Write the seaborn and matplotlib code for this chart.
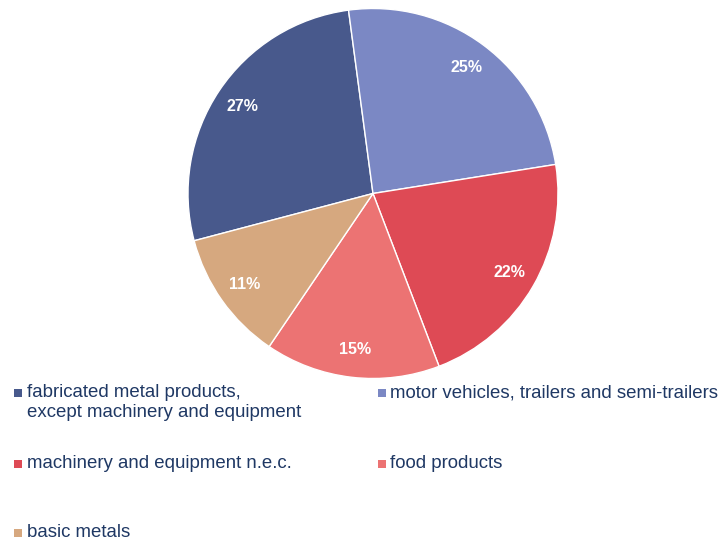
import matplotlib
matplotlib.use("Agg")
import matplotlib.pyplot as plt
import seaborn as sns
from matplotlib.patches import Rectangle

# data (shares)
sectors = ["fabricated metal products,\nexcept machinery and equipment",
           "motor vehicles, trailers and semi-trailers",
           "machinery and equipment n.e.c.",
           "food products",
           "basic metals"]
shares = [27.0, 24.6, 21.7, 15.3, 11.4]
colors = ["#48598C", "#7B88C4", "#DE4A55", "#EC7373", "#D6A87F"]

sns.set_theme(style="white")
plt.rcParams['font.family'] = ['Liberation Sans', 'DejaVu Sans']
text_color = "#1F3864"

fig = plt.figure(figsize=(7.22, 5.40), dpi=100)
# pie axes: centre ~ (373,193.5) px, radius ~185 px
ax = fig.add_axes([188/722, 161.5/540, 370/722, 370/540])
palette = sns.color_palette(colors)
wedges, texts, autotexts = ax.pie(
    shares, colors=palette, startangle=194.8, counterclock=False,
    autopct='%1.0f%%', pctdistance=0.85,
    wedgeprops=dict(edgecolor='white', linewidth=1.0),
    textprops=dict(color='white', fontsize=11.5, fontweight='bold'))
ax.set_xlim(-1, 1)
ax.set_ylim(-1, 1)
ax.axis('off')

''' legend, laid out by rows like the original '''
col_x = [14, 378]
row_y = [393, 464, 533]
for i, (lab, col) in enumerate(zip(sectors, palette)):
    r, c = divmod(i, 2)
    x0 = col_x[c]
    y0 = row_y[r]
    fig.patches.append(Rectangle((x0 / 722, 1 - (y0 + 4) / 540), 8 / 722, 8 / 540,
                                 transform=fig.transFigure, facecolor=col,
                                 edgecolor='none'))
    fig.text((x0 + 12.5) / 722, 1 - (y0 - 9) / 540, lab, ha='left', va='top',
             fontsize=13.4, color=text_color, linespacing=1.2)

plt.savefig('out.png', dpi=100)
